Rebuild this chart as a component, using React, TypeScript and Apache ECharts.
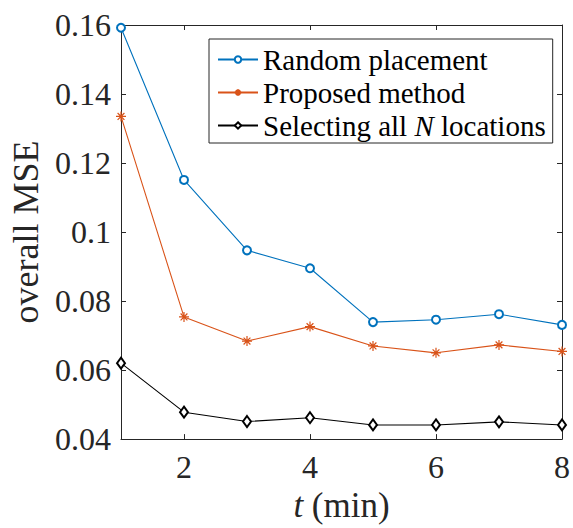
import React, { useEffect, useRef } from "react";
import * as echarts from "echarts";

const tValues = [1, 2, 3, 4, 5, 6, 7, 8];
const randomPlacement = [0.1592, 0.1151, 0.0947, 0.0895, 0.0739, 0.0746, 0.0762, 0.0731];
const proposedMethod = [0.1335, 0.0754, 0.0684, 0.0726, 0.0670, 0.0650, 0.0673, 0.0654];
const selectingAll = [0.0620, 0.0478, 0.0451, 0.0462, 0.0441, 0.0441, 0.0450, 0.0441];
const xTicks = [2, 4, 6, 8];
const seriesNames = ["Random placement", "Proposed method", "Selecting all N locations"];

const FONT = "'Liberation Serif', 'DejaVu Serif', serif";
const AX = "#262626";
const ASTERISK = "path://M5 0L5 10M0 5L10 5M1.6 1.6L8.4 8.4M8.4 1.6L1.6 8.4";

export default function App() {
  const ref = useRef<HTMLDivElement>(null);
  useEffect(() => {
    if (!ref.current) return;
    const chart = echarts.init(ref.current, undefined, { renderer: "svg" });
    const pair = (ys: number[]) => tValues.map((t, i) => [t, ys[i]]);
    const baseX = {
      type: "value",
      min: 1,
      max: 8,
      axisLine: { show: true, lineStyle: { color: AX, width: 1 } },
      splitLine: { show: false },
    };
    const baseY = {
      type: "value",
      min: 0.04,
      max: 0.16,
      interval: 0.02,
      axisLine: { show: true, lineStyle: { color: AX, width: 1 } },
      splitLine: { show: false },
    };
    chart.setOption({
      animation: false,
      backgroundColor: "#ffffff",
      grid: { left: 121, right: 7, top: 25, bottom: 86, containLabel: false },
      xAxis: [
        {
          ...baseX,
          position: "bottom",
          name: "{i|t} (min)",
          nameLocation: "middle",
          nameGap: 48,
          nameTextStyle: {
            fontFamily: FONT,
            fontSize: 35,
            color: AX,
            rich: { i: { fontFamily: FONT, fontSize: 35, fontStyle: "italic", color: AX } },
          },
          axisTick: { show: true, inside: true, length: 5, lineStyle: { color: AX }, customValues: xTicks },
          axisLabel: { show: true, fontFamily: FONT, fontSize: 32, color: AX, margin: 12, customValues: xTicks },
        },
        {
          ...baseX,
          position: "top",
          axisTick: { show: true, inside: true, length: 5, lineStyle: { color: AX }, customValues: xTicks },
          axisLabel: { show: false },
        },
      ],
      yAxis: [
        {
          ...baseY,
          position: "left",
          name: "overall MSE",
          nameLocation: "middle",
          nameGap: 74,
          nameTextStyle: { fontFamily: FONT, fontSize: 36, color: AX },
          axisTick: { show: true, inside: true, length: 5, lineStyle: { color: AX } },
          axisLabel: { show: true, fontFamily: FONT, fontSize: 32, color: AX, margin: 10 },
        },
        {
          ...baseY,
          position: "right",
          axisTick: { show: true, inside: true, length: 5, lineStyle: { color: AX } },
          axisLabel: { show: false },
        },
      ],
      legend: {
        show: true,
        orient: "vertical",
        left: 209,
        top: 39,
        backgroundColor: "#ffffff",
        borderColor: AX,
        borderWidth: 1,
        borderRadius: 0,
        padding: [5, 7, 2, 8],
        itemWidth: 40,
        itemHeight: 8,
        itemGap: 2,
        data: seriesNames,
        formatter: (name: string) =>
          name === seriesNames[2] ? "Selecting all {i|N} locations" : name,
        textStyle: {
          fontFamily: FONT,
          fontSize: 29,
          lineHeight: 31,
          color: "#000",
          rich: { i: { fontFamily: FONT, fontSize: 29, lineHeight: 31, fontStyle: "italic", color: "#000" } },
        },
      },
      series: [
        {
          name: seriesNames[0],
          type: "line",
          data: pair(randomPlacement),
          symbol: "emptyCircle",
          symbolSize: 8,
          color: "#0072BD",
          lineStyle: { color: "#0072BD", width: 1.1 },
          itemStyle: { color: "#0072BD", borderColor: "#0072BD", borderWidth: 1.1 },
        },
        {
          name: seriesNames[1],
          type: "line",
          data: pair(proposedMethod),
          symbol: ASTERISK,
          symbolSize: 10,
          color: "#D95319",
          lineStyle: { color: "#D95319", width: 1.1 },
          itemStyle: { color: "#D95319", borderColor: "#D95319", borderWidth: 1.2 },
        },
        {
          name: seriesNames[2],
          type: "line",
          data: pair(selectingAll),
          symbol: "emptyDiamond",
          symbolSize: [8, 11],
          color: "#000000",
          lineStyle: { color: "#000000", width: 1.1 },
          itemStyle: { color: "#000000", borderColor: "#000000", borderWidth: 1.1 },
        },
      ],
    });
    return () => chart.dispose();
  }, []);
  return (
    <div
      ref={ref}
      style={{ position: "fixed", left: 0, top: 0, width: 573, height: 528 }}
    />
  );
}
